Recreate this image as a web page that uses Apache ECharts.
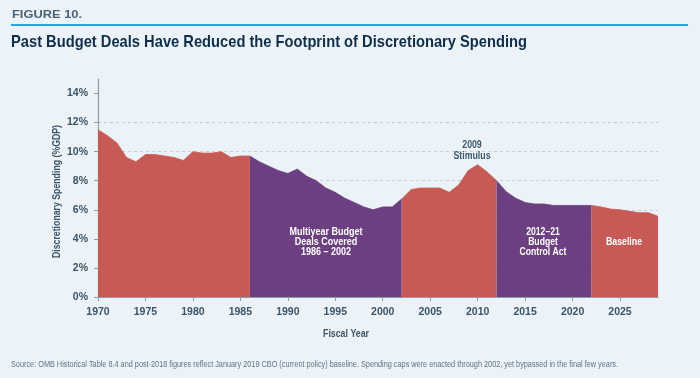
<!DOCTYPE html>
<html>
<head>
<meta charset="utf-8">
<style>
  html, body { margin: 0; padding: 0; background: #EBF2F8; }
  #chart { width: 700px; height: 378px; }
</style>
<script src="https://cdn.jsdelivr.net/npm/echarts@6/dist/echarts.min.js"></script>
</head>
<body>
<div id="chart"></div>
<script>
// ---- data ----
const years = [1970,1971,1972,1973,1974,1975,1976,1977,1978,1979,1980,1981,1982,1983,1984,1985,1986,1987,1988,1989,1990,1991,1992,1993,1994,1995,1996,1997,1998,1999,2000,2001,2002,2003,2004,2005,2006,2007,2008,2009,2010,2011,2012,2013,2014,2015,2016,2017,2018,2019,2020,2021,2022,2023,2024,2025,2026,2027,2028,2029];
const spending = [11.5,11.1,10.6,9.6,9.3,9.8,9.8,9.7,9.6,9.4,10.0,9.9,9.9,10.0,9.6,9.7,9.7,9.3,9.0,8.7,8.5,8.8,8.3,8.0,7.5,7.2,6.8,6.5,6.2,6.0,6.2,6.2,6.75,7.4,7.5,7.5,7.5,7.2,7.7,8.7,9.1,8.6,8.0,7.25,6.8,6.5,6.4,6.4,6.3,6.3,6.3,6.3,6.3,6.2,6.05,6.0,5.9,5.8,5.8,5.55];
const periodStarts = [1970, 1986, 2002, 2012, 2022];
const periodEnds   = [1986, 2002, 2012, 2022, 2029];
const periodKinds  = ['other', 'deal', 'other', 'deal', 'other'];
const yTickValues = [0, 2, 4, 6, 8, 10, 12, 14];
const xTickValues = [1970, 1975, 1980, 1985, 1990, 1995, 2000, 2005, 2010, 2015, 2020, 2025];

const RED = '#C75A55';
const PURPLE = '#6C3F80';
const FONT = '"Liberation Sans", Arial, Helvetica, sans-serif';
const AXIS_TEXT = '#3C5467';

// measure helper: horizontal squeeze so text matches the condensed face of the original
const measureCtx = document.createElement('canvas').getContext('2d');
function squeeze(text, font, targetWidth) {
  measureCtx.font = font;
  let w = 0;
  text.split('\n').forEach(line => { w = Math.max(w, measureCtx.measureText(line).width); });
  return w > 0 ? targetWidth / w : 1;
}
function label(opts) {
  const font = opts.font;
  const sx = squeeze(opts.text, font, opts.width);
  return {
    type: 'text',
    x: opts.x, y: opts.y,
    rotation: opts.rotation || 0,
    scaleX: sx, scaleY: 1,
    z: 10,
    silent: true,
    style: {
      text: opts.text, fill: opts.fill, font: font,
      align: opts.align || 'left', verticalAlign: 'middle',
      lineHeight: opts.lineHeight, letterSpacing: opts.letterSpacing || 0
    }
  };
}

const series = periodStarts.map((s, i) => {
  const e = periodEnds[i];
  const color = periodKinds[i] === 'deal' ? PURPLE : RED;
  const pts = [];
  years.forEach((y, k) => { if (y >= s && y <= e) pts.push([y, spending[k]]); });
  return {
    type: 'line',
    data: pts,
    symbol: 'none',
    silent: true,
    z: 2,
    lineStyle: { color: color, width: 0.8 },
    areaStyle: { color: color, opacity: 1 },
    itemStyle: { color: color }
  };
});

const chart = echarts.init(document.getElementById('chart'), null, { renderer: 'canvas' });
chart.setOption({
  backgroundColor: '#EBF2F8',
  animation: false,
  grid: { left: 98, right: 42, top: 79, bottom: 81, containLabel: false },
  xAxis: {
    type: 'value',
    min: 1970,
    max: 2029,
    interval: 5,
    axisLine: { show: true, lineStyle: { color: '#8C9DAB', width: 1.2 } },
    axisTick: { show: true, length: 4, inside: false, customValues: xTickValues, lineStyle: { color: '#8C9DAB' } },
    axisLabel: {
      customValues: xTickValues,
      margin: 10,
      color: AXIS_TEXT,
      fontFamily: FONT,
      fontWeight: 'bold',
      fontSize: 10.5,
      formatter: v => String(v)
    },
    splitLine: { show: false }
  },
  yAxis: {
    type: 'value',
    min: 0,
    max: 15,
    interval: 2,
    axisLine: { show: true, lineStyle: { color: '#8C9DAB', width: 1.2 } },
    axisTick: { show: true, length: 4, customValues: yTickValues, lineStyle: { color: '#8C9DAB' } },
    axisLabel: {
      customValues: yTickValues,
      margin: 10,
      color: AXIS_TEXT,
      fontFamily: FONT,
      fontWeight: 'bold',
      fontSize: 10.5,
      formatter: v => v + '%'
    },
    splitLine: {
      show: true,
      showMinLine: false,
      showMaxLine: false,
      lineStyle: { color: '#C2CDD7', type: [3, 3], width: 1 }
    }
  },
  series: series,
  graphic: [
    label({ text: 'FIGURE 10.', x: 12, y: 15, width: 70, fill: '#4B6275', font: 'bold 10px ' + FONT, letterSpacing: 1 }),
    { type: 'rect', silent: true, shape: { x: 11, y: 24, width: 677, height: 2 }, style: { fill: '#2AA6DF' } },
    label({ text: 'Past Budget Deals Have Reduced the Footprint of Discretionary Spending', x: 11, y: 42, width: 516, fill: '#0F2E4C', font: 'bold 17px ' + FONT }),
    label({ text: 'Discretionary Spending (%GDP)', x: 57, y: 191.5, width: 133, rotation: Math.PI / 2, align: 'center', fill: AXIS_TEXT, font: 'bold 11px ' + FONT }),
    label({ text: 'Fiscal Year', x: 346, y: 334, width: 46, align: 'center', fill: AXIS_TEXT, font: 'bold 11px ' + FONT }),
    label({ text: 'Multiyear Budget\nDeals Covered\n1986 – 2002', x: 326, y: 242, width: 73, align: 'center', fill: '#FFFFFF', font: 'bold 10.5px ' + FONT, lineHeight: 10.3 }),
    label({ text: '2012–21\nBudget\nControl Act', x: 543, y: 242, width: 47, align: 'center', fill: '#FFFFFF', font: 'bold 10.5px ' + FONT, lineHeight: 10.3 }),
    label({ text: 'Baseline', x: 624, y: 242, width: 36, align: 'center', fill: '#FFFFFF', font: 'bold 10.5px ' + FONT }),
    label({ text: '2009\nStimulus', x: 472, y: 150.5, width: 37, align: 'center', fill: '#3C5A6E', font: 'bold 10.5px ' + FONT, lineHeight: 10.5 }),
    label({ text: 'Source: OMB Historical Table 8.4 and post-2018 figures reflect January 2019 CBO (current policy) baseline. Spending caps were enacted through 2002, yet bypassed in the final few years.', x: 11, y: 365, width: 607, fill: '#5F7484', font: '8.5px ' + FONT })
  ]
});
</script>
</body>
</html>
